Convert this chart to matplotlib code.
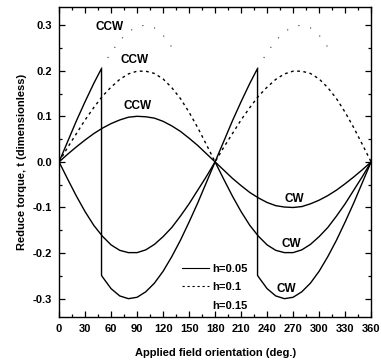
import numpy as np
import matplotlib
matplotlib.use("Agg")
import matplotlib.pyplot as plt
from matplotlib.lines import Line2D

plt.rcParams["font.family"] = ["Liberation Sans", "DejaVu Sans"]
plt.rcParams["font.weight"] = "bold"

nan = np.nan

# applied field orientation (deg.) every 10 degrees
theta = [0, 10, 20, 30, 40, 50, 60, 70, 80, 90, 100, 110, 120, 130, 140, 150, 160, 170, 180,
         190, 200, 210, 220, 230, 240, 250, 260, 270, 280, 290, 300, 310, 320, 330, 340, 350, 360]

# h=0.05, reversible curve (CCW positive half, CW negative half)
t_h005 = [0, 0.017, 0.033, 0.048, 0.062, 0.074, 0.084, 0.092, 0.098, 0.100, 0.099, 0.096, 0.089,
          0.079, 0.067, 0.052, 0.036, 0.018, 0,
          -0.018, -0.036, -0.052, -0.067, -0.079, -0.089, -0.096, -0.099, -0.100, -0.098, -0.092,
          -0.084, -0.074, -0.062, -0.048, -0.033, -0.017, 0]

# h=0.1, CCW branch (dashed)
t_h010_ccw = [0, 0.032, 0.062, 0.092, 0.119, 0.144, 0.164, 0.181, 0.193, 0.199, 0.199, 0.194, 0.182,
              0.163, 0.139, 0.109, 0.075, 0.038, 0,
              0.032, 0.062, 0.092, 0.119, 0.144, 0.164, 0.181, 0.193, 0.199, 0.199, 0.194, 0.182,
              0.163, 0.139, 0.109, 0.075, 0.038, 0]

# h=0.1, CW branch (solid)
t_h010_cw = [0, -0.038, -0.075, -0.109, -0.139, -0.163, -0.182, -0.194, -0.199, -0.199, -0.193, -0.181,
             -0.164, -0.144, -0.119, -0.092, -0.062, -0.032, 0,
             -0.038, -0.075, -0.109, -0.139, -0.163, -0.182, -0.194, -0.199, -0.199, -0.193, -0.181,
             -0.164, -0.144, -0.119, -0.092, -0.062, -0.032, 0]

# h=0.15, irreversible curve with jumps at 49 and 229 deg (solid)
theta_h015 = [0, 10, 20, 30, 40, 49, 49, 50, 60, 70, 80, 90, 100, 110, 120, 130, 140, 150, 160, 170, 180,
              190, 200, 210, 220, 229, 229, 230, 240, 250, 260, 270, 280, 290, 300, 310, 320, 330, 340,
              350, 360]
t_h015 = [0, 0.045, 0.090, 0.132, 0.172, 0.205, -0.249, -0.252, -0.278, -0.294, -0.300, -0.297, -0.285,
          -0.266, -0.240, -0.208, -0.172, -0.132, -0.090, -0.045, 0,
          0.045, 0.090, 0.132, 0.172, 0.205, -0.249, -0.252, -0.278, -0.294, -0.300, -0.297, -0.285,
          -0.266, -0.240, -0.208, -0.172, -0.132, -0.090, -0.045, 0]

# h=0.15, CCW metastable branch (sparse dots)
theta_h015_dot = [49, 60, 70, 80, 90, 100, 110, 120, 130, nan, 229, 240, 250, 260, 270, 280, 290, 300, 310]
t_h015_dot = [0.205, 0.240, 0.266, 0.285, 0.297, 0.300, 0.294, 0.278, 0.252, nan,
              0.205, 0.240, 0.266, 0.285, 0.297, 0.300, 0.294, 0.278, 0.252]

fig = plt.figure(figsize=(3.81, 3.63), dpi=100)
ax = fig.add_axes([0.155, 0.127, 0.819, 0.854])

ax.plot(theta, t_h005, color="black", lw=1.0)
ax.plot(theta, t_h010_ccw, color="black", lw=1.0, ls=(0, (2, 2.5)))
ax.plot(theta, t_h010_cw, color="black", lw=1.0)
ax.plot(theta_h015, t_h015, color="black", lw=1.0)
ax.plot(theta_h015_dot, t_h015_dot, color="#333333", lw=0.8, ls=(0, (1, 10)))

fs = 8
for x, y, s in [(58, 0.295, "CCW"), (87, 0.223, "CCW"), (90, 0.122, "CCW"),
                (271, -0.081, "CW"), (268, -0.180, "CW"), (262, -0.278, "CW")]:
    ax.text(x, y, s, ha="center", va="center", fontsize=8.5, fontweight="bold")

handles = [Line2D([], [], color="black", lw=0.8),
           Line2D([], [], color="black", lw=0.8, ls=(0, (2, 2.5))),
           Line2D([], [], color="black", lw=0.8, ls="none")]
ax.legend(handles, ["h=0.05", "h=0.1", "h=0.15"], loc="upper left",
          bbox_to_anchor=(0.395, 0.172), frameon=False, fontsize=fs,
          handlelength=2.4, handletextpad=0.3, labelspacing=0.78,
          borderpad=0, borderaxespad=0)

ax.set_xlim(0, 360)
ax.set_ylim(-0.34, 0.34)
ax.set_xticks(np.arange(0, 361, 30))
ax.set_xticks(np.arange(0, 361, 15), minor=True)
ax.set_yticks([-0.3, -0.2, -0.1, 0.0, 0.1, 0.2, 0.3])
ax.set_yticks(np.arange(-0.30, 0.31, 0.05), minor=True)
ax.set_yticklabels(["-0.3", "-0.2", "-0.1", "0.0", "0.1", "0.2", "0.3"])
ax.tick_params(which="both", direction="in", top=True, right=True, labelsize=fs, width=0.9)
ax.tick_params(which="major", length=4, pad=5)
ax.tick_params(which="minor", length=2.5)
for sp in ax.spines.values():
    sp.set_linewidth(1.0)

ax.set_xlabel("Applied field orientation (deg.)", fontsize=fs, fontweight="bold", labelpad=10)
ax.set_ylabel("Reduce torque, t (dimensionless)", fontsize=fs, fontweight="bold", labelpad=4)

fig.savefig("out.png", dpi=100)
